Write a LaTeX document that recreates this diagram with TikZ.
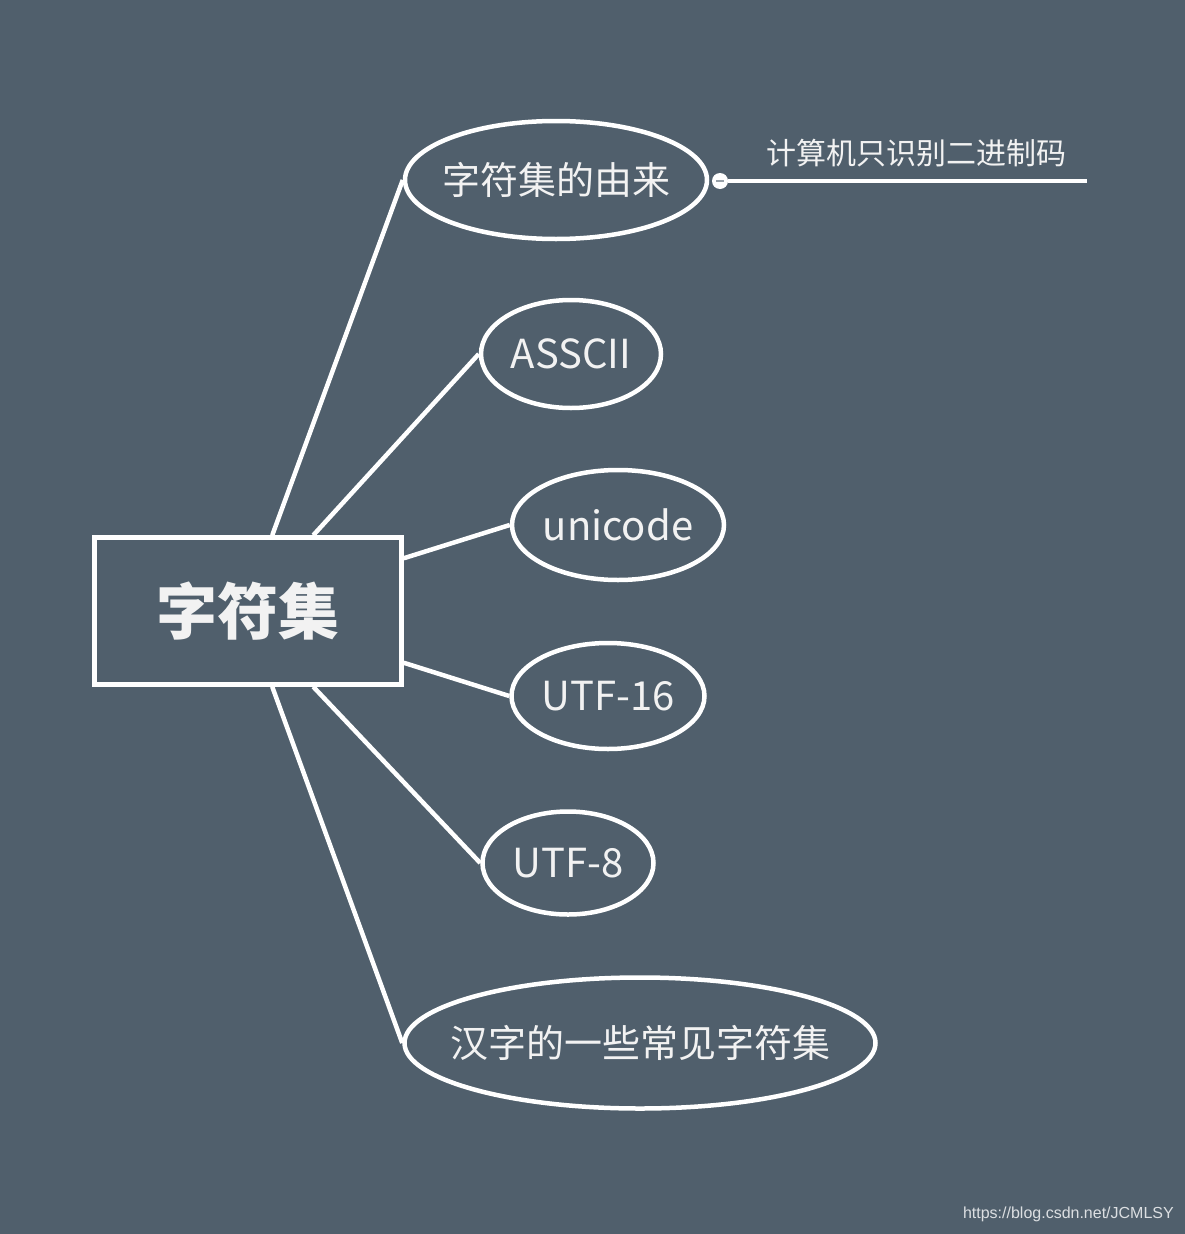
\documentclass[tikz,border=0pt]{standalone}
\usepackage{fontspec}
\newfontfamily\cjk{Noto Sans CJK SC}
\setmainfont{Liberation Sans}
\usetikzlibrary{shapes.geometric}
\definecolor{bgslate}{RGB}{80,95,108}
\definecolor{txtwhite}{RGB}{242,242,242}
\newcommand{\nowidth}[1]{\makebox[0pt]{#1}}
\begin{document}
\begin{tikzpicture}[x=1pt,y=-1pt,
  topic/.style={ellipse,draw=white,line width=4.5pt,inner sep=0pt,text=txtwhite,font=\cjk\fontsize{38}{40}\selectfont},
  latin/.style={font=\cjk\fontsize{40}{42}\selectfont},
  branch/.style={draw=white,line width=4.5pt}]
  \useasboundingbox[fill=bgslate] (0,0) rectangle (1185,1234);
  % central box
  \node[draw=white,line width=4.5pt,minimum width=307pt,minimum height=147pt,inner sep=0pt,text=txtwhite,
    font=\cjk\bfseries\fontsize{61}{64}\selectfont] (charset) at (248,611) {字符集};
  % topics
  \node[topic,minimum width=302pt,minimum height=118pt] (origin) at (556,180) {\nowidth{字符集的由来}};
  \node[topic,latin,minimum width=180pt,minimum height=108pt] (ascii) at (571,354) {\nowidth{ASSCII}};
  \node[topic,latin,minimum width=212pt,minimum height=110pt] (unicode) at (618,525) {\nowidth{unicode}};
  \node[topic,latin,minimum width=193pt,minimum height=106pt] (utf16) at (608,696) {\nowidth{UTF-16}};
  \node[topic,latin,minimum width=171pt,minimum height=103pt] (utf8) at (568,863) {\nowidth{UTF-8}};
  \node[topic,minimum width=471pt,minimum height=131pt] (hanzi) at (640,1043) {\nowidth{汉字的一些常见字符集}};
  % branches
  \draw[branch] (charset.north west)++(180,0) -- (origin.west);
  \draw[branch] (charset.north west)++(221,0) -- (ascii.west);
  \draw[branch] (charset.north east)++(0,23) -- (unicode.west);
  \draw[branch] (charset.south east)++(0,-24) -- (utf16.west);
  \draw[branch] (charset.south west)++(221,0) -- (utf8.west);
  \draw[branch] (charset.south west)++(180,0) -- (hanzi.west);
  % sub topic
  \node[circle,fill=white,minimum size=16pt,inner sep=0pt] (knob) at (720,181) {};
  \draw[bgslate!60,line width=1.5pt] (knob.center)++(-4,0) -- ++(8,0);
  \coordinate (tip) at (1087,181);
  \draw[white,line width=4.5pt] (knob.east) -- (tip);
  \node[text=txtwhite,font=\cjk\fontsize{30}{33}\selectfont] (binary) at (916,153) {计算机只识别二进制码};
  \node[anchor=east,inner sep=0pt,text=white!80!bgslate,font=\fontsize{16}{18}\selectfont] (mark) at (1174,1214) {https://blog.csdn.net/JCMLSY};
\end{tikzpicture}
\end{document}
